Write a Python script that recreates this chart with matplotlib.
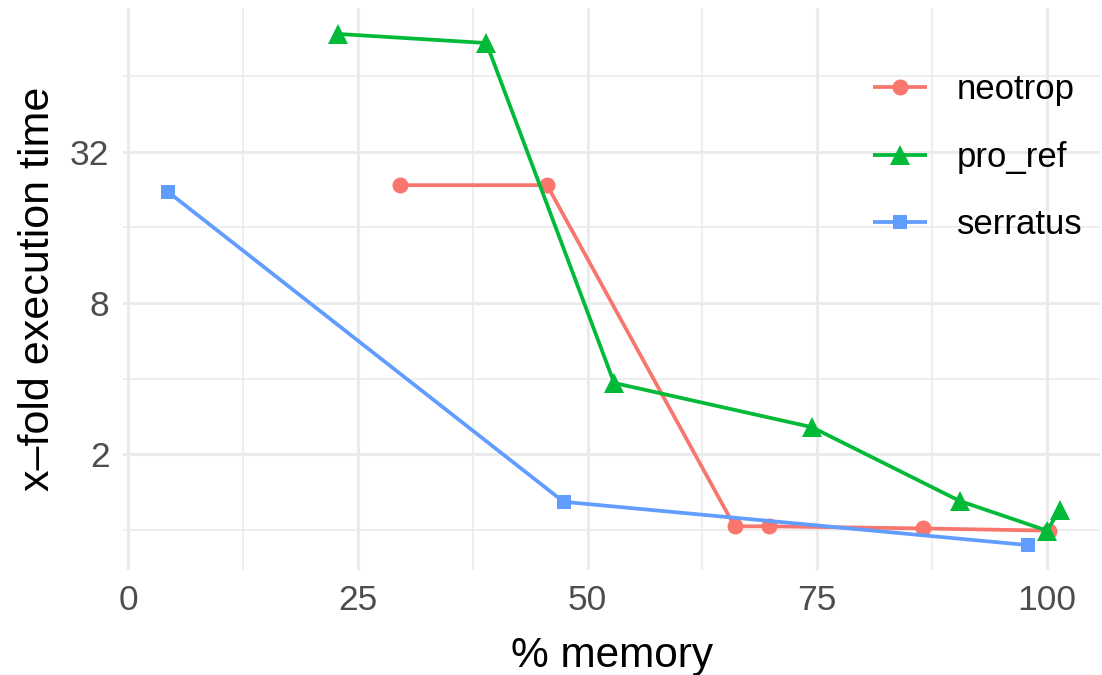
import numpy as np
import matplotlib.pyplot as plt
from matplotlib.ticker import FixedLocator, NullFormatter

# values
neotrop_x = [29.6, 45.6, 66.0, 69.7, 86.5, 100.2]
neotrop_y = [23.6, 23.6, 1.03, 1.03, 1.01, 0.99]

pro_ref_x = [22.8, 39.0, 52.9, 74.4, 90.5, 100.0, 101.4]
pro_ref_y = [94.6, 87.0, 3.84, 2.56, 1.30, 0.99, 1.20]

serratus_x = [4.35, 47.4, 97.9]
serratus_y = [22.2, 1.29, 0.867]

series = [
    ("neotrop", neotrop_x, neotrop_y, "#F8766D", "o", 11.5),
    ("pro_ref", pro_ref_x, pro_ref_y, "#00BA38", "^", 14),
    ("serratus", serratus_x, serratus_y, "#619CFF", "s", 10.5),
]

plt.rcParams["font.family"] = ["Liberation Sans", "DejaVu Sans"]

fig = plt.figure(figsize=(11.02, 6.75), dpi=100)
W, H = 1102, 675
# panel in pixels: x 0 -> 128, 100 -> 1047 ; y top 8, bottom 570
px_per_x = (1047 - 128) / 100
xmin, xmax = -0.5, 105.8
left = 128 + xmin * px_per_x
right = 128 + xmax * px_per_x
top, bottom = 8, 570
ax = fig.add_axes([left / W, 1 - bottom / H, (right - left) / W, (bottom - top) / H])

ax.set_yscale("log", base=2)
ax.set_xlim(xmin, xmax)
ax.set_ylim(2 ** -0.536, 2 ** 6.907)

for name, xs, ys, col, mk, ms in series:
    ax.plot(xs, ys, color=col, lw=2.7, marker=mk, ms=ms, label=name,
            markeredgewidth=0, zorder=3, solid_capstyle="butt")

ax.xaxis.set_major_locator(FixedLocator([0, 25, 50, 75, 100]))
ax.xaxis.set_minor_locator(FixedLocator([12.5, 37.5, 62.5, 87.5]))
ax.yaxis.set_major_locator(FixedLocator([2, 8, 32]))
ax.yaxis.set_minor_locator(FixedLocator([1, 4, 16, 64]))
ax.yaxis.set_minor_formatter(NullFormatter())
ax.set_yticklabels(["2", "8", "32"])

ax.grid(which="major", color="#EBEBEB", lw=2.2)
ax.grid(which="minor", color="#EBEBEB", lw=1.2)
ax.set_axisbelow(True)
for s in ax.spines.values():
    s.set_visible(False)
ax.tick_params(which="both", length=0, labelsize=25.5, labelcolor="#4D4D4D", pad=10)

ax.set_xlabel("% memory", fontsize=30.5, labelpad=14)
ax.set_ylabel("x\u2013fold execution time", fontsize=31, labelpad=9)

leg = ax.legend(loc="upper left",
                bbox_to_anchor=((873 - left) / (right - left), 1 - (73 - top) / (bottom - top)),
                frameon=False, fontsize=25, handlelength=1.55, handletextpad=0.86,
                labelspacing=1.0, borderaxespad=0, borderpad=0)

fig.savefig("out.png", dpi=100)
